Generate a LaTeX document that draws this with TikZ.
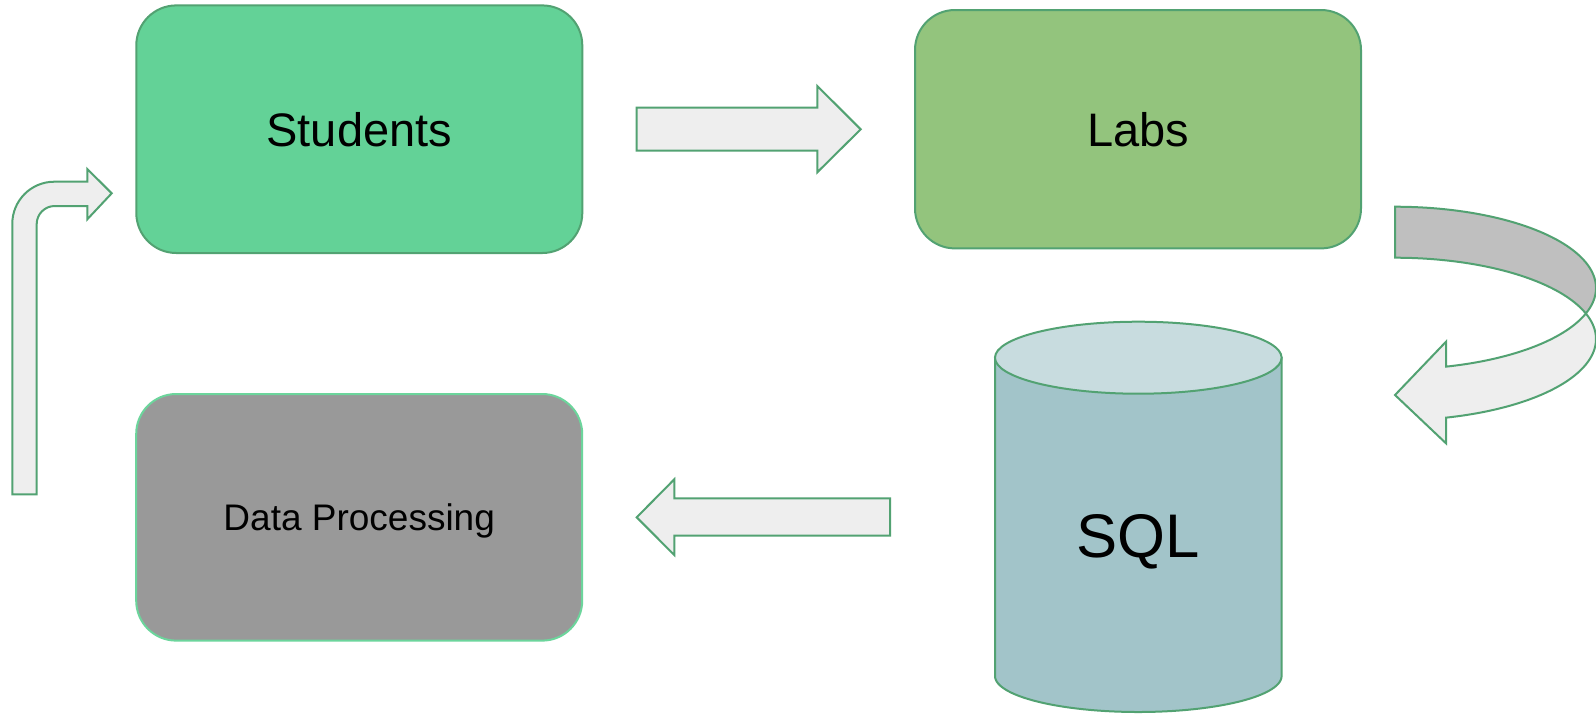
\documentclass[tikz,border=0pt]{standalone}
\usepackage{fontspec}
\setmainfont{Liberation Sans}
\definecolor{edgegreen}{HTML}{52A272}
\definecolor{lightedge}{HTML}{6CD59C}
\definecolor{studentsfill}{HTML}{63D297}
\definecolor{labsfill}{HTML}{93C47D}
\definecolor{datafill}{HTML}{999999}
\definecolor{sqlbody}{HTML}{A2C4C9}
\definecolor{sqltop}{HTML}{C8DCDF}
\definecolor{arrowfill}{HTML}{EEEEEE}
\definecolor{backfill}{HTML}{BFBFBF}
\tikzset{
  box/.style={rectangle, rounded corners=20pt, draw=edgegreen, line width=1pt,
    inner sep=0pt, outer sep=0pt, minimum width=223pt, font=\fontsize{23.5}{28}\selectfont},
  blockarrow/.style={draw=edgegreen, fill=arrowfill, line width=1pt},
  backband/.style={draw=edgegreen, fill=backfill, line width=1pt},
  sqlbox/.style={draw=edgegreen, line width=1pt}
}
\begin{document}
\begin{tikzpicture}[x=0.5pt, y=-0.5pt]
\useasboundingbox[fill=white] (0,0) rectangle (1596,714);

% boxes
\node[box, fill=studentsfill, minimum height=123.8pt] (students) at (359.3,129.2) {Students};
\node[box, fill=labsfill, minimum height=119.2pt] (labs) at (1138,129.2) {Labs};
\node[box, fill=datafill, draw=lightedge, minimum height=123.3pt,
      text depth=0pt, font=\fontsize{18.5}{22}\selectfont] (data) at (359.2,517.3) {Data Processing};

% cylinder
\coordinate (sqltopc) at (1138.3,357.7);
\coordinate (sqlbotc) at (1138.3,676);
\path[sqlbox, fill=sqlbody] (995,357.7) -- (995,676)
  -- plot[domain=180:0, samples=60, variable=\t] ({1138.3+143.3*cos(\t)},{676+36*sin(\t)})
  -- (1281.6,357.7) -- cycle;
\path[sqlbox, fill=sqltop] (sqltopc) ellipse[x radius=71.65pt, y radius=18pt];
\node[font=\fontsize{30.8}{36}\selectfont, text depth=0pt, inner sep=0pt] (sql) at (1138.3,536) {SQL};

% straight block arrows
\draw[blockarrow] (636.7,107.7) -- (817.3,107.7) -- (817.3,86) -- (860.7,129.3)
  -- (817.3,172.3) -- (817.3,150.7) -- (636.7,150.7) -- cycle;
\draw[blockarrow] (890,498.3) -- (674.3,498.3) -- (674.3,479.3) -- (636.7,517.3)
  -- (674.3,555) -- (674.3,535.7) -- (890,535.7) -- cycle;

% bent arrow (left)
\draw[blockarrow] (12.3,494.3) -- (12.3,223.7)
  .. controls (12.3,200.5) and (31.1,181.7) .. (54.3,181.7)
  -- (87.3,181.7) -- (87.3,169) -- (111.7,193.3) -- (87.3,219.3) -- (87.3,206)
  -- (54.7,206) .. controls (44.8,206) and (36.7,214.1) .. (36.7,224)
  -- (36.7,494.3) -- cycle;

% curved arrow (right)
\draw[backband]
  plot[domain=-90:18.28, samples=60, variable=\t] ({1395+201*cos(\t)},{288+81.3*sin(\t)})
  -- plot[domain=-18.28:-90, samples=60, variable=\t] ({1395+201*cos(\t)},{339+81.3*sin(\t)})
  -- cycle;
\draw[blockarrow]
  plot[domain=18.28:75.3, samples=40, variable=\t] ({1395+201*cos(\t)},{288+81.3*sin(\t)})
  -- (1446,341.7) -- (1395,395) -- (1446,443.3) -- (1446,417.7)
  -- plot[domain=75.3:-18.28, samples=60, variable=\t] ({1395+201*cos(\t)},{339+81.3*sin(\t)})
  -- cycle;
\end{tikzpicture}
\end{document}
